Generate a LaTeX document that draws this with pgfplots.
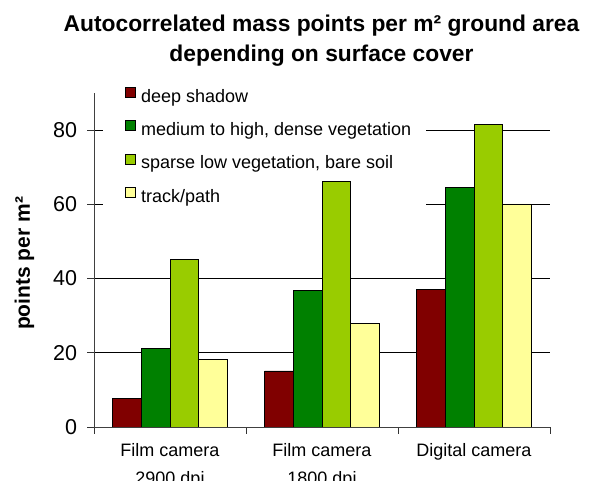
\documentclass[border=0pt]{standalone}
\usepackage{pgfplots}
\pgfplotsset{compat=1.18}
\usepackage{fontspec}
\setmainfont{Liberation Sans}
\definecolor{cDeep}{HTML}{800000}
\definecolor{cMed}{HTML}{008000}
\definecolor{cSparse}{HTML}{99CC00}
\definecolor{cTrack}{HTML}{FFFF99}
\begin{document}
\begin{tikzpicture}
\begin{axis}[
  scale only axis,
  width=456pt, height=334pt,
  at={(0,0)}, anchor=south west,
  xmin=-0.5, xmax=2.5,
  ymin=0, ymax=90,
  ybar=0pt, bar width=28.7pt,
  axis x line*=bottom, axis y line*=left,
  axis line style={black!75, line width=0.9pt},
  xtick={-0.5,0.5,1.5,2.5},
  x tick label as interval,
  xticklabels={{Film camera\\2900 dpi},{Film camera\\1800 dpi},{Digital camera}},
  xticklabel style={align=center, font=\fontsize{18}{28}\selectfont, yshift=-6pt},
  ytick={0,20,40,60,80},
  yticklabel style={font=\fontsize{21.5}{25}\selectfont, xshift=-7pt},
  /pgf/number format/assume math mode=true,
  tick align=outside, major tick length=6.5pt,
  tick style={black!80, line width=0.9pt},
  ymajorgrids,
  grid style={black, line width=0.9pt},
  legend image code/.code={\draw[#1] (0pt,-0.5pt) rectangle (10pt,9.5pt);},
  legend style={at={(rel axis cs:0,1)}, anchor=north west, xshift=10.3pt, yshift=12.5pt,
    draw=none, fill=none, inner xsep=20pt, inner ysep=6pt,
    row sep=15.4pt, column sep=5.7pt,
    font=\fontsize{18}{21}\selectfont,
    nodes={inner sep=0pt, text height=13.5pt, text depth=2.7pt},
    cells={anchor=west}},
  legend cell align=left,
]
\fill[white] (axis cs:-0.44,59.3) rectangle (axis cs:1.684,90);
\addplot[fill=cDeep, draw=black, line width=0.9pt] coordinates {(0,7.6) (1,15.1) (2,37.0)};
\addplot[fill=cMed, draw=black, line width=0.9pt] coordinates {(0,21.1) (1,36.7) (2,64.6)};
\addplot[fill=cSparse, draw=black, line width=0.9pt] coordinates {(0,45.2) (1,66.1) (2,81.6)};
\addplot[fill=cTrack, draw=black, line width=0.9pt] coordinates {(0,18.2) (1,28.0) (2,60.1)};
\legend{deep shadow, {medium to high, dense vegetation}, {sparse low vegetation, bare soil}, track/path}
\end{axis}
\node[anchor=base, font=\fontsize{22.8}{27}\selectfont\bfseries] at (227.5pt,395.3pt) {Autocorrelated mass points per m² ground area};
\node[anchor=base, font=\fontsize{22.8}{27}\selectfont\bfseries] at (227.5pt,365.3pt) {depending on surface cover};
\node[anchor=base, rotate=90, font=\fontsize{21}{25}\selectfont\bfseries] at (-64pt,163.5pt) {points per m²};
\pgfresetboundingbox
\useasboundingbox (-94pt,-54pt) rectangle (505pt,427pt);
\end{tikzpicture}
\end{document}
